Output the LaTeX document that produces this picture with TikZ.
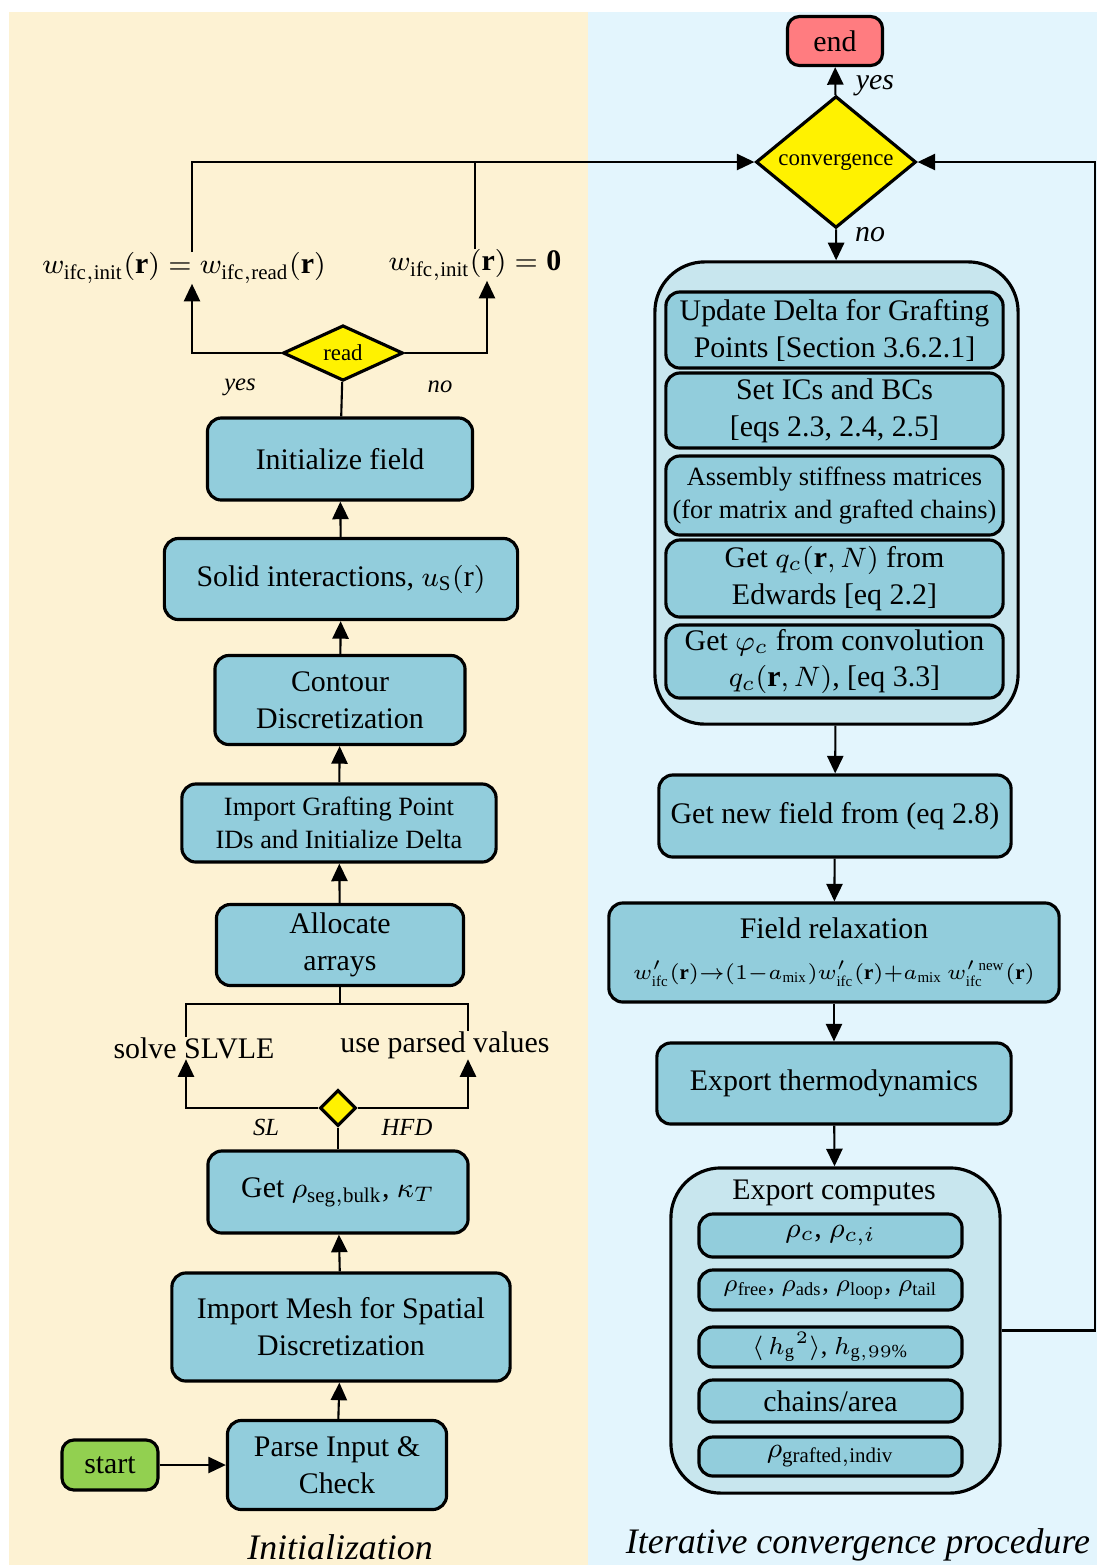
\documentclass[tikz,border=0pt]{standalone}
\usepackage{fontspec}
\setmainfont{Liberation Serif}
\usetikzlibrary{shapes.geometric,arrows.meta}
\definecolor{cream}{RGB}{253,242,211}
\definecolor{skyback}{RGB}{227,245,253}
\definecolor{boxblue}{RGB}{146,205,220}
\definecolor{contblue}{RGB}{200,230,238}
\definecolor{startgreen}{RGB}{146,208,80}
\definecolor{endred}{RGB}{255,124,128}
\tikzset{
  proc/.style={draw,line width=0.9pt,fill=boxblue,rounded corners=1.4mm,align=center,inner sep=0pt,font=\fontsize{8.5}{10.5}\selectfont},
  cont/.style={draw,line width=0.9pt,fill=contblue,rounded corners=5mm,inner sep=0pt},
  dec/.style={draw,diamond,line width=0.9pt,fill=yellow,inner sep=0pt,font=\fontsize{6.5}{7}\selectfont},
  lab/.style={inner sep=0pt,font=\fontsize{8.5}{10}\selectfont},
  ilab/.style={inner sep=0pt,font=\fontsize{7}{8}\selectfont\itshape},
  arr/.style={line width=0.6pt,-{Triangle[length=5pt,width=4.6pt]}},
  ln/.style={line width=0.6pt}
}
\begin{document}
\begin{tikzpicture}[x=0.01cm,y=-0.01cm]
\fill[white] (0,0) rectangle (1097,1565);
\fill[cream] (9,12) rectangle (588,1565);
\fill[skyback] (588,12) rectangle (1097,1565);

\node[proc,fill=startgreen,rounded corners=1.2mm,minimum width=0.96cm,minimum height=0.50cm] (start) at (110,1465) {start};
\node[proc,minimum width=2.19cm,minimum height=0.89cm] (parse) at (337,1465) {Parse Input \&\\Check};
\node[proc,minimum width=3.38cm,minimum height=1.08cm] (mesh) at (341,1327) {Import Mesh for Spatial\\Discretization};
\node[proc,minimum width=2.60cm,minimum height=0.82cm] (getrho) at (338,1192) {Get $\rho_{\mathrm{seg,bulk}}$, $\kappa_T$};
\node[dec,minimum width=0.36cm,minimum height=0.36cm] (sel) at (338,1108) {};
\node[ilab] (sl) at (266,1127) {SL};
\node[ilab] (hfd) at (407,1127) {HFD};
\node[lab] (solve) at (194,1048) {solve SLVLE};
\node[lab] (parsed) at (445,1045) {use parsed values};
\node[proc,minimum width=2.47cm,minimum height=0.81cm] (alloc) at (340,945) {Allocate\\arrays};
\node[proc,minimum width=3.14cm,minimum height=0.78cm,font=\fontsize{7.5}{9.5}\selectfont] (graft) at (339,823) {Import Grafting Point\\IDs and Initialize Delta};
\node[proc,minimum width=2.50cm,minimum height=0.89cm] (contour) at (340,700) {Contour\\Discretization};
\node[proc,minimum width=3.53cm,minimum height=0.81cm] (solid) at (341,579) {Solid interactions, $u_{\mathrm{S}}(\mathrm{r})$};
\node[proc,minimum width=2.65cm,minimum height=0.82cm] (init) at (340,459) {Initialize field};
\node[dec,minimum width=1.20cm,minimum height=0.46cm] (read) at (343,353) {read};
\node[ilab] (yesr) at (240,387) {yes};
\node[ilab] (nor) at (440,387) {no};
\node[lab] (wl) at (184,268) {$w_{\mathrm{ifc,init}}(\mathbf{r}) = w_{\mathrm{ifc,read}}(\mathbf{r})$};
\node[lab] (wz) at (475,265) {$w_{\mathrm{ifc,init}}(\mathbf{r}) = \mathbf{0}$};

\node[dec,minimum width=1.60cm,minimum height=1.30cm] (conv) at (836,162) {convergence};
\node[proc,fill=endred,rounded corners=1.2mm,minimum width=0.95cm,minimum height=0.49cm] (end) at (835,41) {end};
\node[ilab,font=\fontsize{8.5}{10}\selectfont\itshape] (yesc) at (875,86) {yes};
\node[ilab,font=\fontsize{8.5}{10}\selectfont\itshape] (noc) at (870,235) {no};
\node[cont,minimum width=3.63cm,minimum height=4.62cm] (itbox) at (836.5,493) {};
\node[proc,minimum width=3.37cm,minimum height=0.76cm] (upd) at (834.5,330) {Update Delta for Grafting\\Points [Section 3.6.2.1]};
\node[proc,minimum width=3.37cm,minimum height=0.75cm] (setic) at (834.5,410.5) {Set ICs and BCs\\{}[eqs 2.3, 2.4, 2.5]};
\node[proc,minimum width=3.37cm,minimum height=0.79cm,font=\fontsize{7.5}{9.5}\selectfont] (assem) at (834.5,495.5) {Assembly stiffness matrices\\(for matrix and grafted chains)};
\node[proc,minimum width=3.37cm,minimum height=0.77cm] (getq) at (834.5,578.5) {Get $q_c(\mathbf{r},N)$ from\\Edwards [eq 2.2]};
\node[proc,minimum width=3.37cm,minimum height=0.73cm] (getphi) at (834.5,661.5) {Get $\varphi_c$ from convolution\\$q_c(\mathbf{r},N)$, [eq 3.3]};
\node[proc,minimum width=3.52cm,minimum height=0.82cm] (newf) at (835,816) {Get new field from (eq 2.8)};
\node[proc,minimum width=4.50cm,minimum height=0.99cm] (relax) at (834,952.5) {Field relaxation\\[1pt]$\scriptstyle w'_{\mathrm{ifc}}(\mathbf{r}) \rightarrow (1-a_{\mathrm{mix}})w'_{\mathrm{ifc}}(\mathbf{r}) + a_{\mathrm{mix}}\, w'^{\,\mathrm{new}}_{\mathrm{ifc}}(\mathbf{r})$};
\node[proc,minimum width=3.54cm,minimum height=0.81cm] (thermo) at (834,1083.5) {Export thermodynamics};
\node[cont,minimum width=3.29cm,minimum height=3.25cm] (comp) at (835.5,1330.5) {};
\node[lab] (comptitle) at (834,1193) {Export computes};
\node[proc,minimum width=2.63cm,minimum height=0.43cm] (rhoc) at (830.5,1235.5) {$\rho_c$, $\rho_{c,i}$};
\node[proc,minimum width=2.63cm,minimum height=0.40cm,font=\fontsize{7.5}{9}\selectfont] (rhof) at (830.5,1290) {$\rho_{\mathrm{free}}$, $\rho_{\mathrm{ads}}$, $\rho_{\mathrm{loop}}$, $\rho_{\mathrm{tail}}$};
\node[proc,minimum width=2.63cm,minimum height=0.40cm,font=\fontsize{7.5}{9}\selectfont] (hg) at (830.5,1347) {$\langle\, {h_{\mathrm{g}}}^{2}\rangle$, $h_{\mathrm{g},99\%}$};
\node[proc,minimum width=2.63cm,minimum height=0.42cm] (chains) at (830.5,1401) {chains/area};
\node[proc,minimum width=2.63cm,minimum height=0.39cm] (rhog) at (830.5,1456.5) {$\rho_{\mathrm{grafted,indiv}}$};

\node[inner sep=0pt,font=\fontsize{10.2}{12}\selectfont\itshape] (initlab) at (340,1547) {Initialization};
\node[inner sep=0pt,font=\fontsize{10.2}{12}\selectfont\itshape] (iterlab) at (858,1545) {Iterative convergence procedure};

\draw[arr] (start) -- (parse);
\draw[arr] (parse) -- (mesh);
\draw[arr] (mesh) -- (getrho);
\draw[ln] (getrho) -- (sel);
\draw[arr] (sel.west) -| ([xshift=-0.08cm]solve.south);
\draw[arr] (sel.east) -| ([xshift=0.23cm]parsed.south);
\coordinate (brk) at (340,1004);
\draw[ln] (alloc) -- (brk);
\draw[ln] ([xshift=-0.08cm]solve.north) |- (brk) -| ([xshift=0.23cm]parsed.north);
\draw[arr] (alloc) -- (graft);
\draw[arr] (graft) -- (contour);
\draw[arr] (contour) -- (solid);
\draw[arr] (solid) -- (init);
\draw[ln] (init) -- (read);
\draw[arr] (read.west) -| ([xshift=0.08cm]wl.south);
\draw[arr] (read.east) -| ([xshift=0.12cm]wz.south);
\draw[arr] ([xshift=0.08cm]wl.north) |- (conv.west);
\draw[ln] (wz.north) -- (wz.north |- conv.west);
\draw[arr] (conv) -- (end);
\draw[arr] (conv) -- (itbox);
\draw[arr] (itbox) -- (newf);
\draw[arr] (newf) -- (relax);
\draw[arr] (relax) -- (thermo);
\draw[arr] (thermo) -- (comp);
\coordinate (rt) at (1095,162);
\draw[arr] (comp.east) -| (rt) -- (conv.east);
\end{tikzpicture}
\end{document}
